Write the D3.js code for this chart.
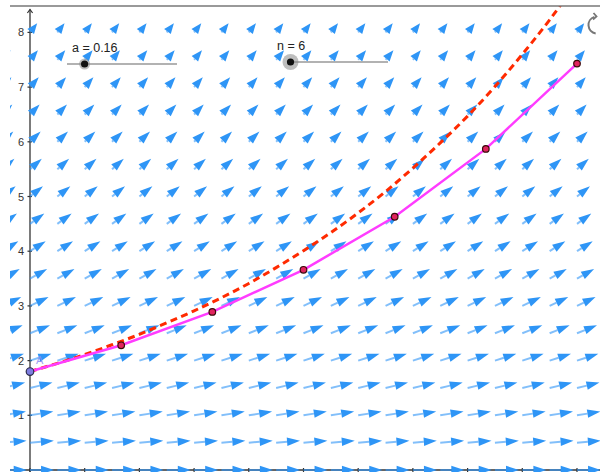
<!DOCTYPE html>
<html>
<head>
<meta charset="utf-8">
<script src="https://cdn.jsdelivr.net/npm/d3@7"></script>
<style>
  html, body { margin: 0; padding: 0; background: #fff; }
  svg { display: block; font-family: "Liberation Sans", Arial, sans-serif; }
</style>
</head>
<body>
<svg id="chart" width="600" height="472"></svg>
<script>
// Parameters of dy/dx = a·y and the Euler step count
const aValue = 0.16;
const nValue = 6;
const y0 = 1.8;

// Slope-field grid
const fieldCols = [-0.5, 0, 0.5, 1, 1.5, 2, 2.5, 3, 3.5, 4, 4.5, 5, 5.5, 6, 6.5, 7, 7.5, 8, 8.5, 9, 9.5, 10, 10.5];
const fieldRows = [0, 0.5, 1, 1.5, 2, 2.5, 3, 3.5, 4, 4.5, 5, 5.5, 6, 6.5, 7, 7.5, 8];

// Euler approximation (n = 6 steps on [0, 10])
const eulerX = [0, 1.667, 3.333, 5, 6.667, 8.333, 10];
const eulerY = [1.8, 2.28, 2.89, 3.66, 4.63, 5.87, 7.43];

// Exact solution samples
const exactX = [0, 0.5, 1, 1.5, 2, 2.5, 3, 3.5, 4, 4.5, 5, 5.5, 6, 6.5, 7, 7.5, 8, 8.5, 9, 9.5, 10];
const exactY = [1.8, 1.95, 2.11, 2.29, 2.48, 2.69, 2.91, 3.15, 3.41, 3.70, 4.01, 4.34, 4.70, 5.09, 5.52, 5.98, 6.47, 7.01, 7.60, 8.23, 8.92];

// Axis ticks
const yTicks = [1, 2, 3, 4, 5, 6, 7, 8];
const xTicks = [0, 1, 2, 3, 4, 5, 6, 7, 8, 9, 10];

const svg = d3.select("#chart");
const x = d3.scaleLinear().domain([0, 10]).range([30, 577]);
const y = d3.scaleLinear().domain([0, 8]).range([470, 32.4]);

svg.append("defs").append("clipPath").attr("id", "view")
  .append("rect").attr("x", 10).attr("y", 6).attr("width", 590).attr("height", 466);

const view = svg.append("g").attr("clip-path", "url(#view)");

// Frame line at the top of the graphics view
svg.append("line").attr("x1", 10).attr("x2", 600).attr("y1", 6).attr("y2", 6)
  .attr("stroke", "#777").attr("stroke-width", 1.5);

// Axes
const axes = view.append("g");
axes.append("line").attr("x1", x(0)).attr("x2", x(0)).attr("y1", 472).attr("y2", 9.5)
  .attr("stroke", "#333").attr("stroke-width", 1.3);
axes.append("path").attr("d", `M${x(0) - 2.6},${13} L${x(0)},${9.5} L${x(0) + 2.6},${13}`)
  .attr("fill", "none").attr("stroke", "#333").attr("stroke-width", 1.2);
axes.append("line").attr("x1", 10).attr("x2", 600).attr("y1", y(0)).attr("y2", y(0))
  .attr("stroke", "#333").attr("stroke-width", 1.3);
axes.selectAll("line.yt").data(yTicks).join("line").attr("class", "yt")
  .attr("x1", x(0) - 2.5).attr("x2", x(0) + 2)
  .attr("y1", d => y(d)).attr("y2", d => y(d))
  .attr("stroke", "#333").attr("stroke-width", 1.2);
axes.selectAll("line.xt").data(xTicks).join("line").attr("class", "xt")
  .attr("x1", d => x(d)).attr("x2", d => x(d))
  .attr("y1", y(0) - 2).attr("y2", y(0) + 3)
  .attr("stroke", "#333").attr("stroke-width", 1.2);
axes.selectAll("text.yl").data(yTicks).join("text").attr("class", "yl")
  .attr("x", x(0) - 6).attr("y", d => y(d) + 4)
  .attr("text-anchor", "end").attr("font-size", 11).attr("fill", "#333")
  .text(d => d);

// Slope field: arrows along (1, a·y), shortened as the slope grows
const fieldColor = "#2e95f6";
const reach = 0.44;
const field = view.append("g");
const cells = [];
fieldRows.forEach(r => fieldCols.forEach(c => cells.push({ c, r })));
cells.forEach(({ c, r }) => {
  const f = aValue * r;
  const k = reach / Math.pow(1 + f * f, 1.25);
  const x1 = x(c), y1 = y(r);
  const x2 = x(c + k), y2 = y(r + k * f);
  const len = Math.hypot(x2 - x1, y2 - y1);
  const ux = (x2 - x1) / len, uy = (y2 - y1) / len;
  const hl = Math.min(13, len * 0.9), hw = 4.2;
  const bx = x2 - ux * hl, by = y2 - uy * hl;
  field.append("line")
    .attr("x1", x1).attr("y1", y1).attr("x2", bx).attr("y2", by)
    .attr("stroke", fieldColor).attr("stroke-opacity", 0.6).attr("stroke-width", 2);
  field.append("path")
    .attr("d", `M${x2},${y2} L${bx - uy * hw},${by + ux * hw} L${bx + uy * hw},${by - ux * hw} Z`)
    .attr("fill", fieldColor);
});

// Exact solution (dashed)
const exactPts = exactX.map((v, i) => [v, exactY[i]]);
view.append("path").datum(exactPts)
  .attr("d", d3.line().x(d => x(d[0])).y(d => y(d[1])).curve(d3.curveMonotoneX))
  .attr("fill", "none").attr("stroke", "#ff2a00").attr("stroke-width", 3)
  .attr("stroke-dasharray", "7,4.5");

// Euler polygon
const eulerPts = eulerX.map((v, i) => [v, eulerY[i]]);
view.append("path").datum(eulerPts)
  .attr("d", d3.line().x(d => x(d[0])).y(d => y(d[1])))
  .attr("fill", "none").attr("stroke", "#ff3cff").attr("stroke-width", 2.5);
view.selectAll("circle.ep").data(eulerPts.slice(1)).join("circle").attr("class", "ep")
  .attr("cx", d => x(d[0])).attr("cy", d => y(d[1])).attr("r", 3.3)
  .attr("fill", "#e0245e").attr("stroke", "#3a0a0a").attr("stroke-width", 1.2);

// Initial point A
view.append("text").attr("x", x(0) + 6).attr("y", y(y0) - 8)
  .attr("font-size", 11).attr("fill", "#8c8cf0").attr("fill-opacity", 0.85).text("A");
view.append("circle").attr("cx", x(0)).attr("cy", y(y0)).attr("r", 3.8)
  .attr("fill", "#7d7de0").attr("stroke", "#2a2a4a").attr("stroke-width", 1.2);

// Sliders
function slider(label, value, lo, hi, x0, x1, yy, tx, ty, halo) {
  const s = d3.scaleLinear().domain([lo, hi]).range([x0, x1]);
  const g = svg.append("g");
  g.append("line").attr("x1", x0).attr("x2", x1).attr("y1", yy).attr("y2", yy)
    .attr("stroke", "#999").attr("stroke-width", 1.3);
  g.append("circle").attr("cx", s(value)).attr("cy", yy).attr("r", halo)
    .attr("fill", "#888").attr("fill-opacity", 0.55);
  g.append("circle").attr("cx", s(value)).attr("cy", yy).attr("r", 3.6).attr("fill", "#111");
  g.append("text").attr("x", tx).attr("y", ty).attr("font-size", 12.5).attr("fill", "#222")
    .text(label);
}
slider("a = " + aValue, aValue, 0, 1, 67, 177, 64, 72, 52, 5.5);
slider("n = " + nValue, nValue, 1, 200, 288, 388, 62, 277, 50, 8);

// Reset icon (top right)
const icon = svg.append("g").attr("stroke", "#777").attr("fill", "none").attr("stroke-width", 2);
const cx = 597, cy = 25, rr = 8.5;
const arc = d3.arc().innerRadius(rr).outerRadius(rr).startAngle(-Math.PI * 0.1).endAngle(-Math.PI * 0.95);
icon.append("path").attr("transform", `translate(${cx},${cy})`).attr("d", arc());
icon.append("path")
  .attr("d", `M${cx - 3.5},${cy - rr - 3.5} L${cx - 0.5},${cy - rr} L${cx - 4},${cy - rr + 3}`)
  .attr("stroke-width", 1.8);
</script>
</body>
</html>
